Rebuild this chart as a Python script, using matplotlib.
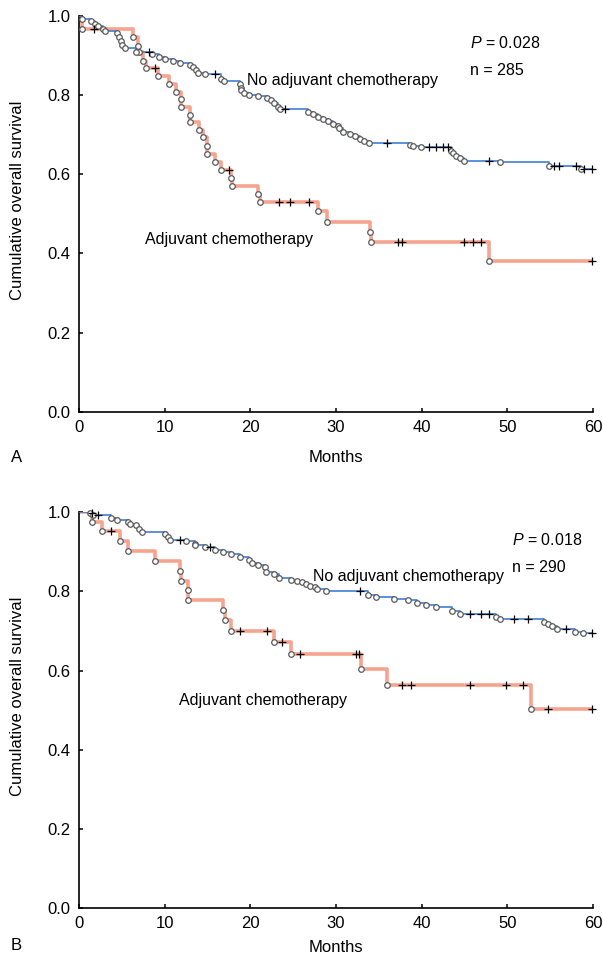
import matplotlib
matplotlib.use("Agg")
import matplotlib.pyplot as plt
import numpy as np

plt.rcParams['font.family'] = ['Liberation Sans', 'DejaVu Sans']
plt.rcParams['mathtext.fontset'] = 'custom'
plt.rcParams['mathtext.rm'] = 'Liberation Sans'
plt.rcParams['mathtext.it'] = 'Liberation Sans:italic'

# ---- panel A : event times / survival after event, censored times
a_no_t = [0.3, 1.36, 1.86, 2.25, 2.83, 3.03, 4.4, 4.7, 4.86, 4.97, 5.36, 6.7, 8.5, 9.36,
          10.0, 11.0, 11.8, 12.9, 13.3, 13.7, 13.9, 14.7, 16.6, 16.9, 18.8, 18.9, 18.96,
          19.3, 19.9, 20.9, 21.9, 22.45, 22.8, 23.2, 23.5, 26.7, 27.3, 27.9, 28.5, 29.05,
          29.6, 30.2, 30.4, 30.8, 31.6, 32.2, 32.8, 33.3, 33.9, 38.6, 39.0, 39.9, 43.4,
          43.7, 44.0, 44.5, 45.0, 49.1, 54.9, 58.6]
a_no_s = [0.992, 0.987, 0.980, 0.974, 0.967, 0.961, 0.956, 0.948, 0.937, 0.927, 0.918,
          0.908, 0.904, 0.897, 0.891, 0.887, 0.880, 0.876, 0.870, 0.863, 0.857, 0.853,
          0.842, 0.836, 0.828, 0.819, 0.813, 0.805, 0.801, 0.797, 0.792, 0.787, 0.780,
          0.771, 0.765, 0.758, 0.752, 0.746, 0.739, 0.735, 0.728, 0.722, 0.717, 0.707,
          0.701, 0.697, 0.689, 0.684, 0.678, 0.674, 0.671, 0.668, 0.659, 0.653, 0.646,
          0.640, 0.634, 0.630, 0.621, 0.613]
a_no_c = [8.2, 15.9, 24.0, 36.0, 40.9, 41.7, 42.5, 43.1, 47.9, 55.5, 56.0, 58.0, 59.0, 59.9]

a_adj_t = [0.3, 6.3, 6.9, 6.95, 7.5, 7.8, 9.2, 10.5, 11.3, 11.9, 11.95, 12.9, 12.95, 14.0,
           14.5, 14.9, 14.95, 15.85, 16.6, 17.8, 17.9, 20.9, 21.1, 27.9, 28.9, 34.0,
           34.05, 47.9]
a_adj_s = [0.967, 0.946, 0.925, 0.908, 0.887, 0.868, 0.849, 0.829, 0.809, 0.790, 0.770,
           0.750, 0.731, 0.711, 0.693, 0.672, 0.651, 0.631, 0.611, 0.590, 0.570, 0.550,
           0.530, 0.506, 0.480, 0.455, 0.430, 0.382]
a_adj_c = [1.7, 8.9, 17.5, 23.4, 24.6, 26.8, 37.2, 37.7, 45.0, 46.0, 46.9, 59.9]

# ---- panel B
b_no_t = [1.28, 1.67, 3.7, 4.4, 5.75, 5.9, 6.7, 7.0, 7.4, 10.0, 10.4, 10.6, 12.5, 13.5,
          13.6, 14.7, 15.85, 16.8, 17.8, 18.8, 19.8, 20.2, 20.9, 21.7, 21.8, 22.8, 23.3,
          24.8, 25.4, 26.0, 26.5, 27.0, 27.5, 27.8, 28.8, 33.7, 34.7, 36.8, 38.4, 39.4,
          40.5, 41.7, 43.6, 44.5, 48.7, 49.1, 54.3, 54.7, 55.2, 55.8, 57.9, 58.8]
b_no_s = [0.997, 0.992, 0.986, 0.981, 0.975, 0.970, 0.967, 0.959, 0.950, 0.946, 0.938,
          0.931, 0.927, 0.921, 0.917, 0.913, 0.904, 0.900, 0.894, 0.886, 0.879, 0.873,
          0.866, 0.861, 0.850, 0.844, 0.835, 0.830, 0.827, 0.824, 0.820, 0.814, 0.810,
          0.805, 0.802, 0.791, 0.785, 0.782, 0.778, 0.770, 0.766, 0.761, 0.751, 0.742,
          0.736, 0.730, 0.723, 0.717, 0.712, 0.705, 0.698, 0.694]
b_no_c = [1.5, 2.2, 11.8, 15.3, 32.8, 45.7, 46.9, 47.9, 50.8, 52.4, 56.8, 59.9]

b_adj_t = [1.5, 2.7, 4.8, 5.75, 8.85, 11.8, 11.85, 12.7, 12.75, 16.8, 17.05, 17.8, 22.8,
           24.8, 32.9, 35.9, 52.8]
b_adj_s = [0.975, 0.953, 0.928, 0.902, 0.877, 0.852, 0.827, 0.803, 0.778, 0.753, 0.727,
           0.700, 0.672, 0.642, 0.604, 0.564, 0.503]
b_adj_c = [3.7, 18.8, 21.9, 23.7, 25.8, 32.3, 32.7, 37.7, 38.7, 45.7, 49.8, 51.8, 54.8, 59.9]

pink = '#f6a48f'
blue = '#3f7fd6'


def km(ax, te, se, tc, color, lw, z):
    x = np.r_[0.0, te, 60.0]
    y = np.r_[1.0, se, se[-1]]
    ax.step(x, y, where='post', color=color, lw=lw, zorder=z, solid_capstyle='butt')
    ax.plot(te, se, 'o', mfc='white', mec='#5a5a5a', ms=4, mew=0.9, ls='none',
            zorder=5, clip_on=False)
    idx = np.searchsorted(x, tc, side='right') - 1
    ax.plot(tc, y[idx], '+', color='black', ms=5.5, mew=0.9, ls='none',
            zorder=6, clip_on=False)


def style(ax):
    ax.set_xlim(0, 60)
    ax.set_ylim(0, 1)
    ax.set_xticks(np.arange(0, 61, 10))
    ax.set_yticks(np.arange(0, 1.01, 0.2))
    ax.set_yticklabels(['%.1f' % v for v in np.arange(0, 1.01, 0.2)])
    for s in ['top', 'right']:
        ax.spines[s].set_visible(False)
    for s in ['left', 'bottom']:
        ax.spines[s].set_linewidth(1.2)
    ax.tick_params(direction='in', length=3, width=1.1, labelsize=12, pad=6)


fig = plt.figure(figsize=(6.03, 9.69), dpi=100)
axA = fig.add_axes([0.131, 0.5751, 0.8524, 0.4084])
axB = fig.add_axes([0.131, 0.0630, 0.8524, 0.4083])

for ax, no, adj in [(axA, (a_no_t, a_no_s, a_no_c), (a_adj_t, a_adj_s, a_adj_c)),
                    (axB, (b_no_t, b_no_s, b_no_c), (b_adj_t, b_adj_s, b_adj_c))]:
    km(ax, adj[0], adj[1], adj[2], pink, 2.6, 2)
    km(ax, no[0], no[1], no[2], blue, 1.2, 3)
    style(ax)

fs = 11.5
axA.text(19.6, 0.838, 'No adjuvant chemotherapy', fontsize=fs, va='center')
axA.text(45.6, 0.932, '$P$ = 0.028', fontsize=fs, va='center')
axA.text(45.6, 0.861, 'n = 285', fontsize=fs, va='center')
axA.text(7.7, 0.436, 'Adjuvant chemotherapy', fontsize=fs, va='center')

axB.text(49.6, 0.837, 'No adjuvant chemotherapy', fontsize=fs, va='center', ha='right')
axB.text(50.6, 0.931, '$P$ = 0.018', fontsize=fs, va='center')
axB.text(50.6, 0.860, 'n = 290', fontsize=fs, va='center')
axB.text(11.7, 0.525, 'Adjuvant chemotherapy', fontsize=fs, va='center')

fig.text(18 / 603, 1 - 200 / 969, 'Cumulative overall survival', rotation=90,
         ha='center', va='center', fontsize=12)
fig.text(18 / 603, 1 - 696 / 969, 'Cumulative overall survival', rotation=90,
         ha='center', va='center', fontsize=12)
fig.text(336 / 603, 1 - 457 / 969, 'Months', ha='center', va='center', fontsize=12)
fig.text(336 / 603, 1 - 947 / 969, 'Months', ha='center', va='center', fontsize=12)
fig.text(11 / 603, 1 - 457 / 969, 'A', ha='left', va='center', fontsize=12)
fig.text(11 / 603, 1 - 945 / 969, 'B', ha='left', va='center', fontsize=12)

fig.savefig('out.png', dpi=100)
